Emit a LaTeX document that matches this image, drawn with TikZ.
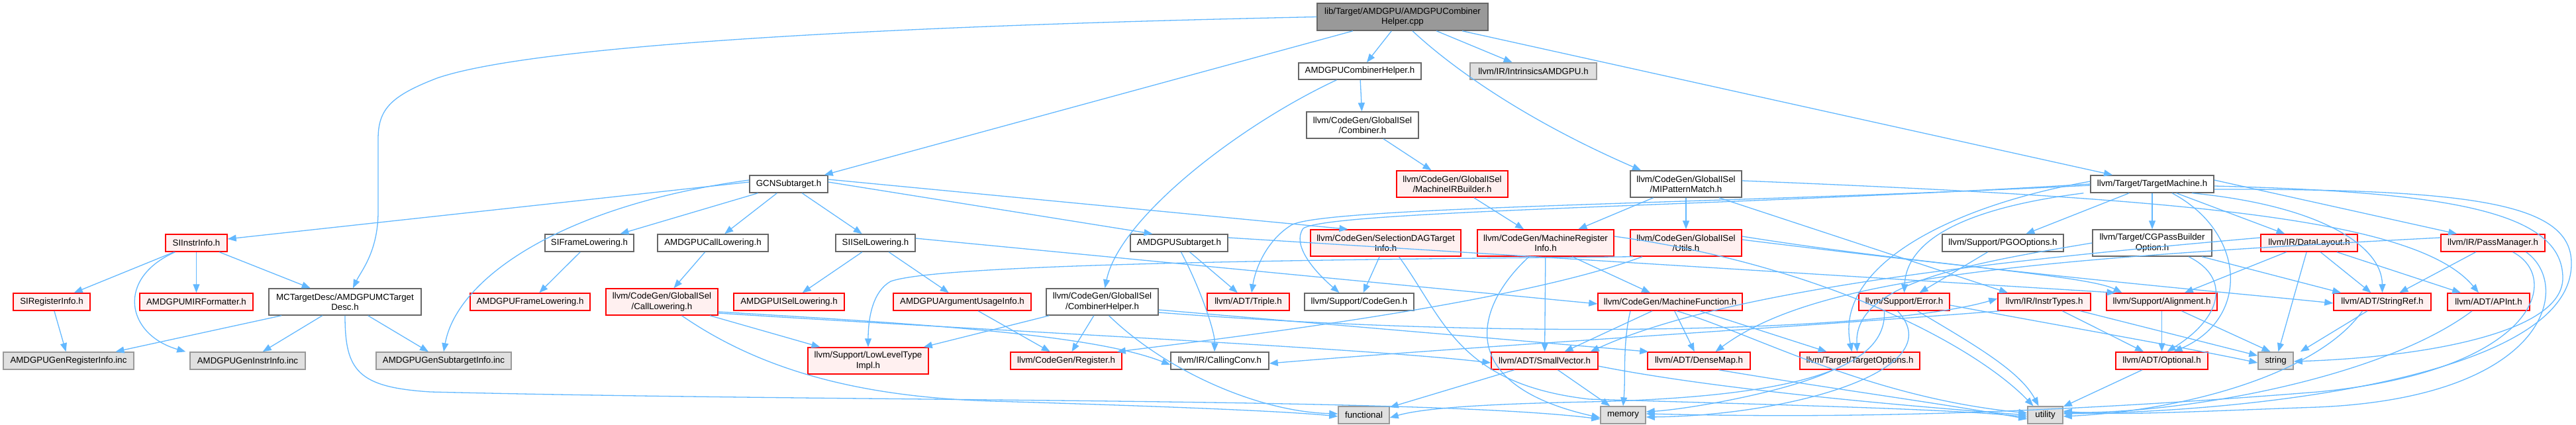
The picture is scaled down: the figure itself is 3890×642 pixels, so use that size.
\documentclass[tikz,border=0pt]{standalone}
\usepackage{fontspec}
\setmainfont{Liberation Sans}
\usetikzlibrary{arrows.meta}
\definecolor{edgec}{HTML}{63B8FF}
\definecolor{redb}{HTML}{FF0000}
\definecolor{redf}{HTML}{FFF0F0}
\definecolor{grayf}{HTML}{E0E0E0}
\definecolor{grayb}{HTML}{999999}
\definecolor{darkb}{HTML}{666666}
\definecolor{rootf}{HTML}{999999}
\begin{document}
\begin{tikzpicture}[x=1pt,y=-1pt,
  box/.style={draw,line width=1.5pt,minimum height=26pt,inner sep=0pt,align=center,font=\fontsize{13.3}{15.5}\selectfont},
  wbox/.style={box,draw=darkb,fill=white},
  rbox/.style={box,draw=redb,fill=redf},
  gbox/.style={box,draw=grayb,fill=grayf},
  rootbox/.style={box,draw=darkb,fill=rootf},
  dep/.style={draw=edgec,line width=1.3pt,-{Triangle[length=13pt,width=10pt]}}]
\useasboundingbox (0,0) rectangle (3890,642);
% row 0-3
\node[rootbox,minimum width=258pt,minimum height=41pt] (root) at (2118,25.5) {lib/Target/AMDGPU/AMDGPUCombiner\\Helper.cpp};
\node[wbox,minimum width=185pt,minimum height=25pt] (ACH) at (2053.5,107.5) {AMDGPUCombinerHelper.h};
\node[gbox,minimum width=191pt,minimum height=25pt] (IAM) at (2315.5,107.5) {llvm/IR/IntrinsicsAMDGPU.h};
\node[wbox,minimum width=169pt,minimum height=40pt] (CMB) at (2057.5,189) {llvm/CodeGen/GlobalISel\\/Combiner.h};
\node[wbox,minimum width=118pt] (GCN) at (1191,278) {GCNSubtarget.h};
\node[rbox,minimum width=168pt,minimum height=40pt] (MIB) at (2193,278) {llvm/CodeGen/GlobalISel\\/MachineIRBuilder.h};
\node[wbox,minimum width=168pt,minimum height=40pt] (MIPM) at (2546,278) {llvm/CodeGen/GlobalISel\\/MIPatternMatch.h};
\node[wbox,minimum width=186pt] (TM) at (3250,278) {llvm/Target/TargetMachine.h};
% row 4
\node[rbox,minimum width=93pt] (SII) at (296.5,367) {SIInstrInfo.h};
\node[wbox,minimum width=134pt] (SIFL) at (890,367) {SIFrameLowering.h};
\node[wbox,minimum width=167pt] (ACL) at (1076.5,367) {AMDGPUCallLowering.h};
\node[wbox,minimum width=120pt] (SIISL) at (1322,367) {SIISelLowering.h};
\node[wbox,minimum width=147pt] (ASUB) at (1780.5,367) {AMDGPUSubtarget.h};
\node[rbox,minimum width=227pt,minimum height=40pt] (SDTI) at (2092.5,367) {llvm/CodeGen/SelectionDAGTarget\\Info.h};
\node[rbox,minimum width=206pt,minimum height=40pt] (MRI) at (2334,367) {llvm/CodeGen/MachineRegister\\Info.h};
\node[rbox,minimum width=168pt,minimum height=40pt] (UTL) at (2546,367) {llvm/CodeGen/GlobalISel\\/Utils.h};
\node[wbox,minimum width=183pt] (PGO) at (3024.5,367) {llvm/Support/PGOOptions.h};
\node[wbox,minimum width=180pt,minimum height=40pt] (CGPB) at (3250,367) {llvm/Target/CGPassBuilder\\Option.h};
\node[rbox,minimum width=146pt] (DL) at (3487,367) {llvm/IR/DataLayout.h};
\node[rbox,minimum width=157pt] (PM) at (3764.5,367) {llvm/IR/PassManager.h};
% row 5
\node[rbox,minimum width=116pt] (SIRI) at (78,456) {SIRegisterInfo.h};
\node[rbox,minimum width=171pt] (MIRF) at (296.5,456) {AMDGPUMIRFormatter.h};
\node[wbox,minimum width=230pt,minimum height=40pt] (MCTD) at (521,456) {MCTargetDesc/AMDGPUMCTarget\\Desc.h};
\node[rbox,minimum width=181pt] (AFL) at (800.5,456) {AMDGPUFrameLowering.h};
\node[rbox,minimum width=169pt,minimum height=40pt] (CL) at (999.5,456) {llvm/CodeGen/GlobalISel\\/CallLowering.h};
\node[rbox,minimum width=167pt] (AISL) at (1191.5,456) {AMDGPUISelLowering.h};
\node[rbox,minimum width=208pt] (AAUI) at (1453,456) {AMDGPUArgumentUsageInfo.h};
\node[wbox,minimum width=169pt,minimum height=40pt] (CH) at (1664.5,456) {llvm/CodeGen/GlobalISel\\/CombinerHelper.h};
\node[rbox,minimum width=124pt] (TRI) at (1885,456) {llvm/ADT/Triple.h};
\node[wbox,minimum width=165pt] (CG) at (2052.5,456) {llvm/Support/CodeGen.h};
\node[rbox,minimum width=218pt] (MF) at (2522,456) {llvm/CodeGen/MachineFunction.h};
\node[rbox,minimum width=137pt] (ERR) at (2875.5,456) {llvm/Support/Error.h};
\node[rbox,minimum width=140pt] (IT) at (3087,456) {llvm/IR/InstrTypes.h};
\node[rbox,minimum width=167pt] (ALN) at (3264.5,456) {llvm/Support/Alignment.h};
\node[rbox,minimum width=147pt] (SR) at (3597.5,456) {llvm/ADT/StringRef.h};
\node[rbox,minimum width=124pt] (API) at (3758,456) {llvm/ADT/APInt.h};
% row 6
\node[gbox,minimum width=197pt] (GRI) at (103.5,545) {AMDGPUGenRegisterInfo.inc};
\node[gbox,minimum width=174pt] (GII) at (374,545) {AMDGPUGenInstrInfo.inc};
\node[gbox,minimum width=204pt] (GSI) at (670,545) {AMDGPUGenSubtargetInfo.inc};
\node[rbox,minimum width=182pt,minimum height=40pt] (LLT) at (1311,545) {llvm/Support/LowLevelType\\Impl.h};
\node[rbox,minimum width=168pt] (REG) at (1610,545) {llvm/CodeGen/Register.h};
\node[wbox,minimum width=148pt] (CC) at (1842,545) {llvm/IR/CallingConv.h};
\node[rbox,minimum width=161pt] (SV) at (2332.5,545) {llvm/ADT/SmallVector.h};
\node[rbox,minimum width=155pt] (DM) at (2565.5,545) {llvm/ADT/DenseMap.h};
\node[rbox,minimum width=181pt] (TO) at (2808.5,545) {llvm/Target/TargetOptions.h};
\node[rbox,minimum width=139pt] (OPT) at (3264.5,545) {llvm/ADT/Optional.h};
\node[gbox,minimum width=53pt] (STR) at (3436.5,545) {string};
% row 7
\node[gbox,minimum width=77pt] (FUN) at (2059.5,627) {functional};
\node[gbox,minimum width=68pt] (MEM) at (2451,627) {memory};
\node[gbox,minimum width=53pt] (UTIL) at (3088.5,627) {utility};

% root
\draw[dep] (root.west) .. controls (1300,40) and (800,70) .. (660,118) .. controls (590,145) and (571,165) .. (571,210) -- (571,320) .. controls (571,380) and (545,410) .. ([xshift=12pt]MCTD.north);
\draw[dep] ([xshift=-75pt]root.south) -- ([xshift=-6pt]GCN.north east);
\draw[dep] (root) -- (ACH);
\draw[dep] (root) -- (IAM);
\draw[dep] ([xshift=15pt]root.south) .. controls (2190,100) and (2300,180) .. ([xshift=-68pt]MIPM.north);
\draw[dep] ([xshift=90pt]root.south) -- ([xshift=-60pt]TM.north);
% combiner chain
\draw[dep] (ACH) -- (CMB);
\draw[dep] ([xshift=-35pt]ACH.south) .. controls (1870,190) and (1690,330) .. ([xshift=4pt]CH.north);
\draw[dep] (CMB) -- (MIB);
\draw[dep] (MIB) -- (MRI);
\draw[dep] (MIPM) -- (MRI);
\draw[dep] (MIPM) -- (UTL);
\draw[dep] ([xshift=50pt]MIPM.south) -- ([xshift=-55pt]IT.north);
\draw[dep] ([yshift=5pt]MIPM.east) .. controls (3300,300) and (3650,330) .. ([xshift=-15pt]API.north);
% GCN
\draw[dep] ([yshift=3pt]GCN.west) -- ([yshift=6pt]SII.east);
\draw[dep] ([yshift=6pt]GCN.west) .. controls (850,310) and (690,420) .. (GSI.north);
\draw[dep] (GCN) -- (SIFL);
\draw[dep] (GCN) -- (ACL);
\draw[dep] (GCN) -- (SIISL);
\draw[dep] ([yshift=3pt]GCN.east) -- ([xshift=-40pt]ASUB.north);
\draw[dep] ([yshift=7pt]GCN.east) -- (SDTI.160);
% SII
\draw[dep] (SII) -- (SIRI);
\draw[dep] (SII) -- (MIRF);
\draw[dep] (SII) -- (MCTD);
\draw[dep] ([xshift=-32pt]SII.south) .. controls (175,420) and (190,505) .. ([xshift=-6pt]GII.north west);
\draw[dep] (SIRI) -- (GRI);
% MCTD
\draw[dep] ([xshift=-96pt]MCTD.south) -- ([xshift=71pt]GRI.north);
\draw[dep] (MCTD) -- (GII);
\draw[dep] (MCTD) -- (GSI);
\draw[dep] (MCTD.south) .. controls (521,560) and (540,585) .. (650,592) .. controls (1300,608) and (2150,600) .. ([yshift=-6pt]MEM.west);
% lowering
\draw[dep] (SIFL) -- (AFL);
\draw[dep] (ACL) -- (CL);
\draw[dep] (SIISL) -- (AISL);
\draw[dep] (SIISL) -- (AAUI);
\draw[dep] ([yshift=7pt]SIISL.east) -- ([yshift=-3pt]MF.west);
\draw[dep] (AAUI) -- (REG);
% CallLowering
\draw[dep] (CL) -- (LLT);
\draw[dep] ([yshift=-15pt]CL.east) .. controls (1400,490) and (1650,505) .. ([yshift=-6pt]CC.west);
\draw[dep] ([yshift=-17pt]CL.east) .. controls (1500,500) and (2050,525) .. ([yshift=-3pt]SV.west);
\draw[dep] ([xshift=30pt]CL.south) .. controls (1150,560) and (1300,600) .. (1500,606) .. controls (1800,615) and (1950,622) .. ([yshift=-2pt]FUN.west);
% CombinerHelper
\draw[dep] (CH) -- (REG);
\draw[dep] ([xshift=-80pt]CH.south) -- ([xshift=-8pt]LLT.north east);
\draw[dep] ([yshift=-12pt]CH.east) -- ([xshift=2pt]DM.north west);
\draw[dep] ([yshift=-16pt]CH.east) .. controls (2300,515) and (2850,500) .. ([yshift=5pt]IT.west);
\draw[dep] ([xshift=10pt]CH.south) .. controls (1760,560) and (1900,622) .. ([yshift=2pt]FUN.west);
% AMDGPUSubtarget
\draw[dep] (ASUB) -- (TRI);
\draw[dep] ([xshift=3pt]ASUB.south) .. controls (1810,430) and (1835,500) .. ([xshift=-8pt]CC.north);
\draw[dep] ([yshift=8pt]ASUB.east) -- ([xshift=-70pt]ALN.north);
% SelectionDAGTargetInfo
\draw[dep] (SDTI) -- (CG);
\draw[dep] ([xshift=20pt]SDTI.south) .. controls (2180,480) and (2200,580) .. (2400,603) .. controls (2700,612) and (2950,618) .. ([yshift=-3pt]UTIL.west);
% MachineRegisterInfo
\draw[dep] (MRI) -- (SV);
\draw[dep] ([xshift=40pt]MRI.south) -- ([xshift=-30pt]MF.north);
\draw[dep] ([xshift=-25pt]MRI.south) .. controls (2230,460) and (2190,580) .. ([yshift=-4pt]MEM.west);
\draw[dep] ([yshift=10pt]MRI.east) .. controls (2750,400) and (2980,520) .. ([xshift=-18pt]UTIL.north);
% Utils
\draw[dep] ([xshift=-66pt]UTL.south) .. controls (2300,455) and (1900,505) .. ([xshift=-8pt]REG.north east);
\draw[dep] ([xshift=-80pt]UTL.south) .. controls (2000,392) and (1420,398) .. (1345,425) .. controls (1318,440) and (1311,480) .. (LLT.north);
\draw[dep] ([yshift=5pt]UTL.east) .. controls (3100,420) and (3400,445) .. ([yshift=-2pt]SR.west);
\draw[dep] ([yshift=10pt]UTL.east) .. controls (2900,400) and (3150,415) .. ([xshift=-60pt]ALN.north);
% PGO
\draw[dep] (PGO) -- (ERR);
% TargetMachine
\draw[dep] (TM) -- (PGO);
\draw[dep] (TM) -- (CGPB);
\draw[dep] (TM) -- (DL);
\draw[dep] ([yshift=6pt]TM.east) -- ([xshift=25pt]PM.north west);
\draw[dep] ([xshift=60pt]TM.south) .. controls (3500,310) and (3597,370) .. (SR.north);
\draw[dep] ([xshift=30pt]TM.south) .. controls (3390,350) and (3400,480) .. ([xshift=18pt]OPT.north);
\draw[dep] ([xshift=-10pt]TM.south west) .. controls (3000,310) and (2880,350) .. (ERR.north);
\draw[dep] ([yshift=4pt]TM.west) .. controls (2950,310) and (2770,400) .. ([xshift=-12pt]TO.north);
\draw[dep] ([yshift=-2pt]TM.west) .. controls (2600,308) and (2000,312) .. (1950,340) .. controls (1910,365) and (1895,410) .. ([xshift=5pt]TRI.north);
\draw[dep] ([yshift=0pt]TM.west) .. controls (2600,312) and (2010,318) .. (1968,345) .. controls (1950,370) and (1985,410) .. ([xshift=-30pt]CG.north);
\draw[dep] ([yshift=-3pt]TM.east) .. controls (3700,290) and (3870,320) .. (3870,420) .. controls (3870,505) and (3650,540) .. ([yshift=-1pt]STR.east);
\draw[dep] ([yshift=-8pt]TM.east) .. controls (3750,285) and (3885,310) .. (3883,400) .. controls (3880,570) and (3400,622) .. ([yshift=2pt]UTIL.east);
% CGPassBuilderOption
\draw[dep] (CGPB.west) .. controls (2960,400) and (2800,430) .. ([xshift=-4pt]TO.north);
\draw[dep] ([xshift=55pt]CGPB.south) .. controls (3370,420) and (3355,480) .. ([xshift=8pt]OPT.north);
\draw[dep] ([xshift=75pt]CGPB.south) -- ([xshift=12pt]SR.north west);
% DataLayout
\draw[dep] (DL) -- (ALN);
\draw[dep] (DL) -- (STR);
\draw[dep] (DL) -- (SR);
\draw[dep] (DL) -- (API);
\draw[dep] ([yshift=8pt]DL.west) .. controls (3000,395) and (2600,440) .. ([xshift=-12pt]SV.north east);
% PassManager
\draw[dep] ([yshift=8pt]PM.west) .. controls (3050,392) and (2740,420) .. ([xshift=25pt]DM.north);
\draw[dep] (PM) -- (SR);
\draw[dep] ([xshift=30pt]PM.south) .. controls (3870,420) and (3830,560) .. (3500,592) .. controls (3000,632) and (2700,630) .. ([yshift=2pt]MEM.east);
\draw[dep] ([xshift=50pt]PM.south) .. controls (3885,430) and (3850,600) .. (3500,615) .. controls (3300,622) and (3200,628) .. ([yshift=6pt]UTIL.east);
% MachineFunction
\draw[dep] ([xshift=-27pt]MF.south) -- ([xshift=30pt]SV.north);
\draw[dep] (MF) -- (DM);
\draw[dep] ([xshift=45pt]MF.south) -- ([xshift=-50pt]TO.north);
\draw[dep] ([xshift=-60pt]MF.south) .. controls (2450,520) and (2455,570) .. (MEM.north);
\draw[dep] ([xshift=10pt]MF.south) .. controls (2650,505) and (2820,600) .. ([yshift=3pt]UTIL.west);
% Error
\draw[dep] ([xshift=-30pt]ERR.south) .. controls (2850,560) and (2700,600) .. (2400,607) .. controls (2250,610) and (2150,616) .. ([yshift=-4pt]FUN.east);
\draw[dep] ([xshift=-10pt]ERR.south) .. controls (2950,560) and (2700,628) .. ([yshift=-3pt]MEM.east);
\draw[dep] ([xshift=20pt]ERR.south) .. controls (2980,520) and (3050,560) .. ([xshift=-10pt]UTIL.north);
\draw[dep] ([yshift=-5pt]ERR.east) .. controls (3100,490) and (3300,525) .. ([yshift=-3pt]STR.west);
% InstrTypes
\draw[dep] (IT) -- (OPT);
\draw[dep] (IT) -- ([yshift=-6pt]STR.north west);
\draw[dep] ([xshift=4pt]IT.south west) .. controls (2700,495) and (2200,525) .. ([yshift=-4pt]CC.east);
% leaves
\draw[dep] (ALN) -- (OPT);
\draw[dep] (ALN) -- ([xshift=-8pt]STR.north);
\draw[dep] (SR) -- ([xshift=10pt]STR.north east);
\draw[dep] ([xshift=-30pt]SR.south) .. controls (3500,565) and (3300,620) .. ([yshift=-2pt]UTIL.east);
\draw[dep] ([xshift=-25pt]API.south) .. controls (3600,570) and (3300,625) .. ([yshift=4pt]UTIL.east);
\draw[dep] (OPT) -- (UTIL);
\draw[dep] (SV) -- (FUN);
\draw[dep] (SV) -- (MEM);
\draw[dep] ([yshift=-8pt]SV.east) .. controls (2600,590) and (2900,615) .. (UTIL.west);
\draw[dep] ([xshift=30pt]DM.south) .. controls (2750,585) and (2950,612) .. ([yshift=-6pt]UTIL.west);
\draw[dep] ([xshift=-40pt]TO.south) .. controls (2700,592) and (2550,618) .. ([yshift=5pt]MEM.east);
\end{tikzpicture}
\end{document}
